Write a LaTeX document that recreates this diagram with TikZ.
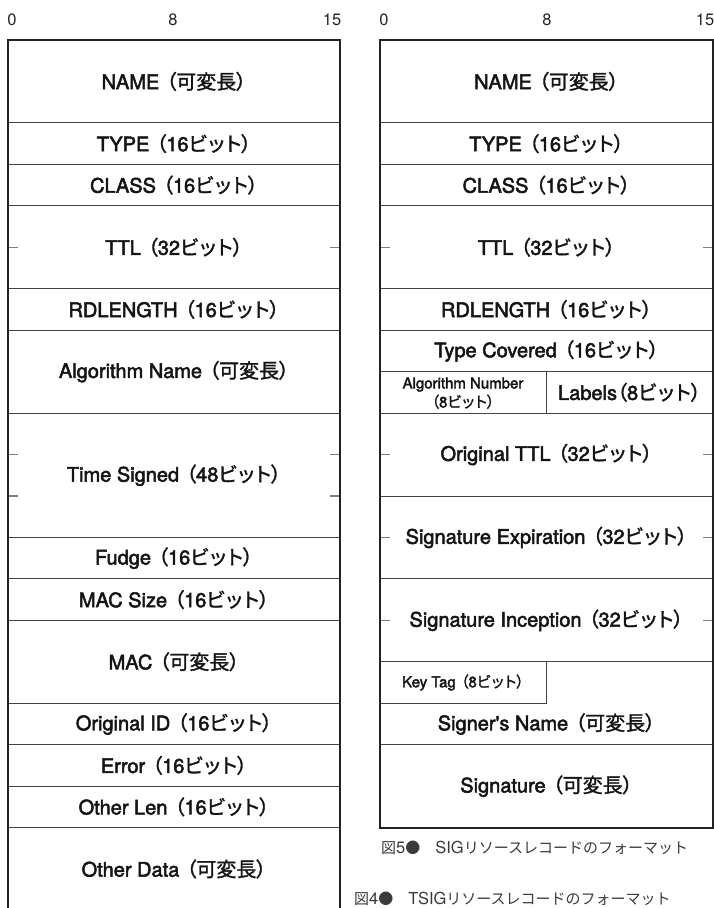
\documentclass[tikz,border=0pt]{standalone}
\usepackage{fontspec}
\setmainfont{TeX Gyre Heros}
\newfontfamily\lab{TeX Gyre Heros}[FakeBold=2.5]
\newfontfamily\capl{TeX Gyre Heros}[Scale=1.1]
\newfontfamily\jp{Noto Sans CJK JP}
\newfontfamily\jpb{Noto Sans CJK JP}[RawFeature=+palt, FakeBold=1.5]
\newcommand\J[1]{{\jpb #1}}
\newcommand\bitword{\J{ビ}\kern0.08em\J{ッ}\kern0.08em\J{ト）}}
\newcommand\bitlen[1]{\hspace{0.35em}\J{（}#1\bitword}
\newcommand\varlen{\hspace{0.35em}\J{（可変長）}}
\definecolor{frame}{HTML}{222222}
\definecolor{inner}{HTML}{444444}
\definecolor{tick}{HTML}{808080}
\definecolor{cap}{HTML}{3A3A3A}
\tikzset{
  outer/.style={draw=frame, line width=2pt},
  innerline/.style={draw=inner, line width=0.9pt},
  tickline/.style={draw=tick, line width=1.3pt},
  field/.style={font=\lab\fontsize{20}{22}\selectfont, text=black!92, inner sep=0pt},
  small/.style={font=\lab\fontsize{15}{19}\selectfont, text=black!92, inner sep=0pt, align=center},
  header/.style={font=\fontsize{16.5}{18}\selectfont, text=black!85, inner sep=0pt},
  caption/.style={font=\jp\fontsize{15}{17}\selectfont, text=cap, inner sep=0pt, anchor=west}
}
\begin{document}
\begin{tikzpicture}[x=1pt,y=-41.45pt]
\useasboundingbox (0,-0.965) rectangle (714,20.941);
% ---------- headers
\node[header] (lh0) at (12,-0.48) {0};
\node[header] (lh8) at (173,-0.48) {8};
\node[header] (lh15) at (332,-0.48) {15};
\node[header] (rh0) at (384,-0.48) {0};
\node[header] (rh8) at (547,-0.48) {8};
\node[header] (rh15) at (705,-0.48) {15};
% ---------- left box (TSIG)
\foreach \r in {2,3,4,6,7,9,12,13,14,16,17,18,19}
  \draw[innerline] (8,\r) -- (340,\r);
\foreach \r in {5,10,11}{
  \draw[tickline] (8,\r) -- (18,\r);
  \draw[tickline] (330,\r) -- (340,\r);}
\draw[outer] (8,20.941) -- (8,0) -- (340,0) -- (340,20.941);
\node[field] (lname) at (174,1) {NAME\varlen};
\node[field] (ltype) at (174,2.5) {TYPE\bitlen{16}};
\node[field] (lclass) at (174,3.5) {CLASS\bitlen{16}};
\node[field] (lttl) at (174,5) {TTL\bitlen{32}};
\node[field] (lrdl) at (174,6.5) {RDLENGTH\bitlen{16}};
\node[field] (lalg) at (174,8) {Algorithm Name\varlen};
\node[field] (ltime) at (174,10.5) {Time Signed\bitlen{48}};
\node[field] (lfudge) at (174,12.5) {Fudge\bitlen{16}};
\node[field] (lmacs) at (174,13.5) {MAC Size\bitlen{16}};
\node[field] (lmac) at (174,15) {MAC\varlen};
\node[field] (lorig) at (174,16.5) {Original ID\bitlen{16}};
\node[field] (lerr) at (174,17.5) {Error\bitlen{16}};
\node[field] (lolen) at (174,18.5) {Other Len\bitlen{16}};
\node[field] (lodata) at (174,20) {Other Data\varlen};
% ---------- right box (SIG)
\foreach \r in {2,3,4,6,7,8,9,11,13,15,17}
  \draw[innerline] (380,\r) -- (712.5,\r);
\draw[innerline] (546.5,8) -- (546.5,9);
\draw[innerline] (380,16) -- (546.5,16) -- (546.5,15);
\foreach \r in {5,10,12,14}{
  \draw[tickline] (380,\r) -- (390,\r);
  \draw[tickline] (702.5,\r) -- (712.5,\r);}
\draw[outer] (380,0) rectangle (712.5,19);
\node[field] (rname) at (546.5,1) {NAME\varlen};
\node[field] (rtype) at (546.5,2.5) {TYPE\bitlen{16}};
\node[field] (rclass) at (546.5,3.5) {CLASS\bitlen{16}};
\node[field] (rttl) at (546.5,5) {TTL\bitlen{32}};
\node[field] (rrdl) at (546.5,6.5) {RDLENGTH\bitlen{16}};
\node[field] (rcov) at (546.5,7.5) {Type Covered\bitlen{16}};
\node[small] (ralg) at (463,8.52) {Algorithm Number\\\J{（}8\bitword};
\node[field] (rlab) at (629.5,8.5) {Labels\J{（}8\bitword};
\node[field] (rottl) at (546.5,10) {Original TTL\bitlen{32}};
\node[field] (rexp) at (546.5,12) {Signature Expiration\bitlen{32}};
\node[field] (rinc) at (546.5,14) {Signature Inception\bitlen{32}};
\node[small] (rkey) at (463,15.5) {Key Tag\bitlen{8}};
\node[field] (rsigner) at (546.5,16.5) {Signer's Name\varlen};
\node[field] (rsig) at (546.5,18) {Signature\varlen};
% ---------- captions
\node[caption] (cap5) at (381,19.49) {図{\capl 5}●　{\capl SIG}リソースレコードのフォーマット};
\node[caption] (cap4) at (354,20.73) {図{\capl 4}●　{\capl TSIG}リソースレコードのフォーマット};
\end{tikzpicture}
\end{document}
